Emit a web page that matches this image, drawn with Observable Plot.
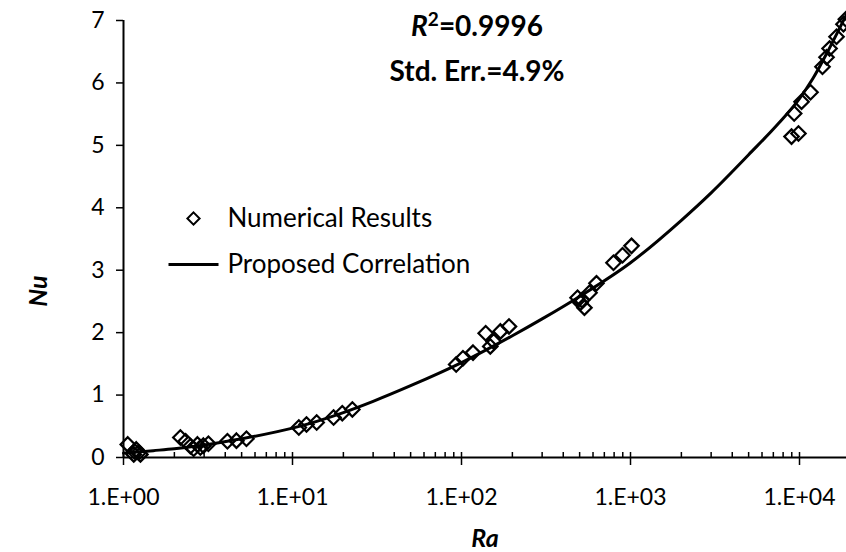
<!DOCTYPE html>
<html>
<head>
<meta charset="utf-8">
<script src="https://cdn.jsdelivr.net/npm/d3@7"></script>
<script src="https://cdn.jsdelivr.net/npm/@observablehq/plot@0.6"></script>
<style>
  html, body { margin: 0; padding: 0; background: #fff; }
  #chart { width: 846px; height: 552px; }
</style>
</head>
<body>
<div id="chart"></div>
<script>
// Numerical results: Rayleigh number and Nusselt number
const raNum = [1.06, 1.16, 1.23, 1.19, 1.26, 1.15,
  2.17, 2.33, 2.49, 2.6, 2.74, 2.85, 2.97, 3.18, 4.12, 4.66, 5.34,
  10.9, 12.1, 13.9, 17.5, 19.7, 22.6,
  93, 102, 117, 139, 148, 155, 170, 191,
  486, 506, 534, 516, 572, 629, 793, 897, 1014,
  8970, 9860, 9300, 10280, 11620, 13680, 14450, 15060, 16560, 18200, 18800];
const nuNum = [0.21, 0.10, 0.08, 0.13, 0.05, 0.05,
  0.32, 0.26, 0.18, 0.14, 0.21, 0.16, 0.19, 0.22, 0.26, 0.27, 0.30,
  0.48, 0.53, 0.56, 0.64, 0.71, 0.77,
  1.49, 1.59, 1.68, 1.99, 1.78, 1.86, 2.02, 2.10,
  2.56, 2.48, 2.40, 2.52, 2.64, 2.79, 3.12, 3.24, 3.39,
  5.14, 5.19, 5.51, 5.70, 5.85, 6.26, 6.41, 6.55, 6.74, 6.94, 7.02];

// Proposed correlation curve
const raFit = [1, 1.5, 2, 3, 5, 10, 20, 30, 50, 100, 200, 300, 500, 1000, 2000, 3000, 5000, 7500, 10000, 12000, 15000, 19000];
const nuFit = [0.07, 0.11, 0.14, 0.2, 0.3, 0.47, 0.72, 0.9, 1.15, 1.52, 1.95, 2.22, 2.58, 3.12, 3.8, 4.24, 4.85, 5.35, 5.75, 6.07, 6.55, 7.1];

// Axes
const xTicks = [1, 10, 100, 1000, 10000];
const xTickLabels = ["1.E+00", "1.E+01", "1.E+02", "1.E+03", "1.E+04"];
const xMinorTicks = [2, 3, 4, 5, 6, 7, 8, 9, 20, 30, 40, 50, 60, 70, 80, 90,
  200, 300, 400, 500, 600, 700, 800, 900, 2000, 3000, 4000, 5000, 6000, 7000, 8000, 9000];
const yTicks = [0, 1, 2, 3, 4, 5, 6, 7];
const xLabel = "Ra";
const yLabel = "Nu";

// Annotations and legend
const statLines = ["R²=0.9996", "Std. Err.=4.9%"];
const legendLabels = ["Numerical Results", "Proposed Correlation"];

const W = 846, H = 552;
const M = {top: 20, right: 0, bottom: 95, left: 123};
const innerH = H - M.top - M.bottom;
const FONT = "Lato, 'Open Sans', sans-serif";

const numData = raNum.map((ra, i) => ({ra, nu: nuNum[i]}));
const fitData = raFit.map((ra, i) => ({ra, nu: nuFit[i]}));

// Short horizontal stroke used as the legend key of the correlation line
const legendStroke = {
  draw(context) {
    context.moveTo(-25, 0);
    context.lineTo(25, 0);
  }
};

const chart = Plot.plot({
  width: W,
  height: H,
  marginTop: M.top,
  marginRight: M.right,
  marginBottom: M.bottom,
  marginLeft: M.left,
  style: {fontFamily: FONT, fontSize: "23px", color: "#000", background: "#fff"},
  x: {type: "log", domain: [1, 18970]},
  y: {domain: [0, 7]},
  marks: [
    // axis lines
    Plot.ruleY([0], {stroke: "#000", strokeWidth: 2}),
    Plot.ruleX([1], {stroke: "#000", strokeWidth: 2}),
    // minor ticks pointing into the plot, major ticks crossing the axis
    Plot.tickX(xMinorTicks, {x: d => d, insetTop: innerH - 5, stroke: "#000", strokeWidth: 1.5}),
    Plot.tickX(xTicks, {x: d => d, insetTop: innerH - 5, stroke: "#000", strokeWidth: 1.5}),
    Plot.axisX({
      ticks: xTicks, tickSize: 8, tickPadding: 23, strokeWidth: 1.5,
      tickFormat: d => xTickLabels[xTicks.indexOf(d)], label: null
    }),
    Plot.axisY({ticks: yTicks, tickSize: 7, tickPadding: 12, strokeWidth: 1.5, tickFormat: d => String(d), label: null}),
    // data
    Plot.dot(numData, {x: "ra", y: "nu", symbol: "diamond2", r: 6.5, stroke: "#000", strokeWidth: 2.2, fill: "none"}),
    Plot.line(fitData, {x: "ra", y: "nu", stroke: "#000", strokeWidth: 3, curve: "monotone-x"}),
    // axis titles
    Plot.text([xLabel], {text: d => d, frameAnchor: "bottom", lineAnchor: "middle", dy: 81, fontSize: 25, fontWeight: "bold", fontStyle: "italic"}),
    Plot.text([yLabel], {text: d => d, frameAnchor: "left", textAnchor: "middle", lineAnchor: "middle", dx: -85, dy: 52, rotate: -90, fontSize: 25, fontWeight: "bold", fontStyle: "italic"}),
    // statistics
    Plot.text([statLines[0]], {text: d => d, frameAnchor: "top", lineAnchor: "middle", dx: -8, dy: 7, fontSize: 28, fontWeight: "bold"}),
    Plot.text([statLines[1]], {text: d => d, frameAnchor: "top", lineAnchor: "middle", dx: -8, dy: 52, fontSize: 28, fontWeight: "bold"}),
    // legend
    Plot.dot([legendLabels[0]], {frameAnchor: "top-left", dx: 70, dy: 198, symbol: "diamond2", r: 5.5, stroke: "#000", strokeWidth: 2, fill: "none"}),
    Plot.dot([legendLabels[1]], {frameAnchor: "top-left", dx: 70, dy: 244, symbol: legendStroke, stroke: "#000", strokeWidth: 3, fill: "none"}),
    Plot.text([legendLabels[0]], {text: d => d, frameAnchor: "top-left", textAnchor: "start", lineAnchor: "middle", dx: 104, dy: 198, fontSize: 26}),
    Plot.text([legendLabels[1]], {text: d => d, frameAnchor: "top-left", textAnchor: "start", lineAnchor: "middle", dx: 104, dy: 244, fontSize: 26})
  ]
});

document.getElementById("chart").appendChild(chart);

// Typeset R² with an italic R and a raised 2
d3.select(chart).selectAll("text").each(function () {
  if (this.textContent === statLines[0]) {
    const el = d3.select(this).text(null);
    el.append("tspan").attr("font-style", "italic").text("R");
    el.append("tspan").attr("font-size", "19px").attr("dy", "-0.55em").text("2");
    el.append("tspan").attr("dy", "0.37em").text("=0.9996");
  }
});
</script>
</body>
</html>
